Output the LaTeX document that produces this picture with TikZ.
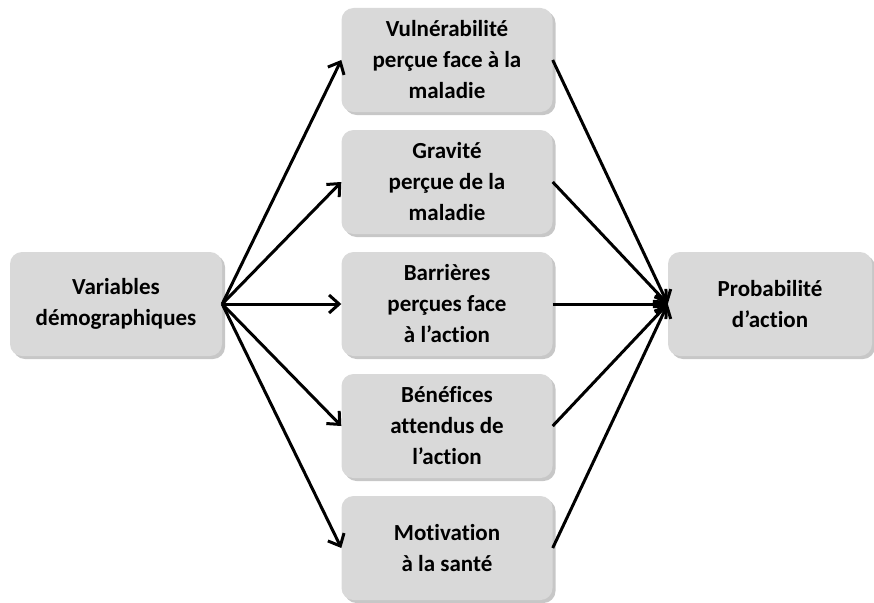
\documentclass[tikz,border=0pt]{standalone}
\usepackage{fontspec}
\setmainfont{Carlito}[Ligatures={NoCommon}]
\usetikzlibrary{arrows.meta,shadows}
\definecolor{boxgray}{HTML}{D9D9D9}
\begin{document}
\begin{tikzpicture}[x=1pt,y=-1pt,
  box/.style={draw=none, fill=boxgray, rounded corners=12pt,
    minimum width=211pt, minimum height=104pt, inner sep=0pt,
    align=center, font=\bfseries\fontsize{23}{31}\selectfont,
    drop shadow={shadow xshift=3pt, shadow yshift=-3pt, opacity=0.4, fill=black!55}},
  arr/.style={line width=3pt, -{Straight Barb[length=10pt,width=18pt,line width=3pt]}}]
\useasboundingbox (0,0) rectangle (874,602);
\node[box, minimum width=212pt] (dem) at (116,304) {Variables\\démographiques};
\node[box] (vul) at (447,60) {Vulnérabilité\\perçue face à la\\maladie};
\node[box] (gra) at (447,182) {Gravité\\perçue de la\\maladie};
\node[box] (bar) at (447,304) {Barrières\\perçues face\\à l’action};
\node[box] (ben) at (447,426) {Bénéfices\\attendus de\\l’action};
\node[box] (mot) at (447,548) {Motivation\\à la santé};
\node[box, minimum width=204pt] (pro) at (770,304) {Probabilité\\d’action};
\foreach \n in {vul,gra,bar,ben,mot}{
  \draw[arr] (dem.east) -- (\n.west);
  \draw[arr] (\n.east) -- (pro.west);
}
\end{tikzpicture}
\end{document}
